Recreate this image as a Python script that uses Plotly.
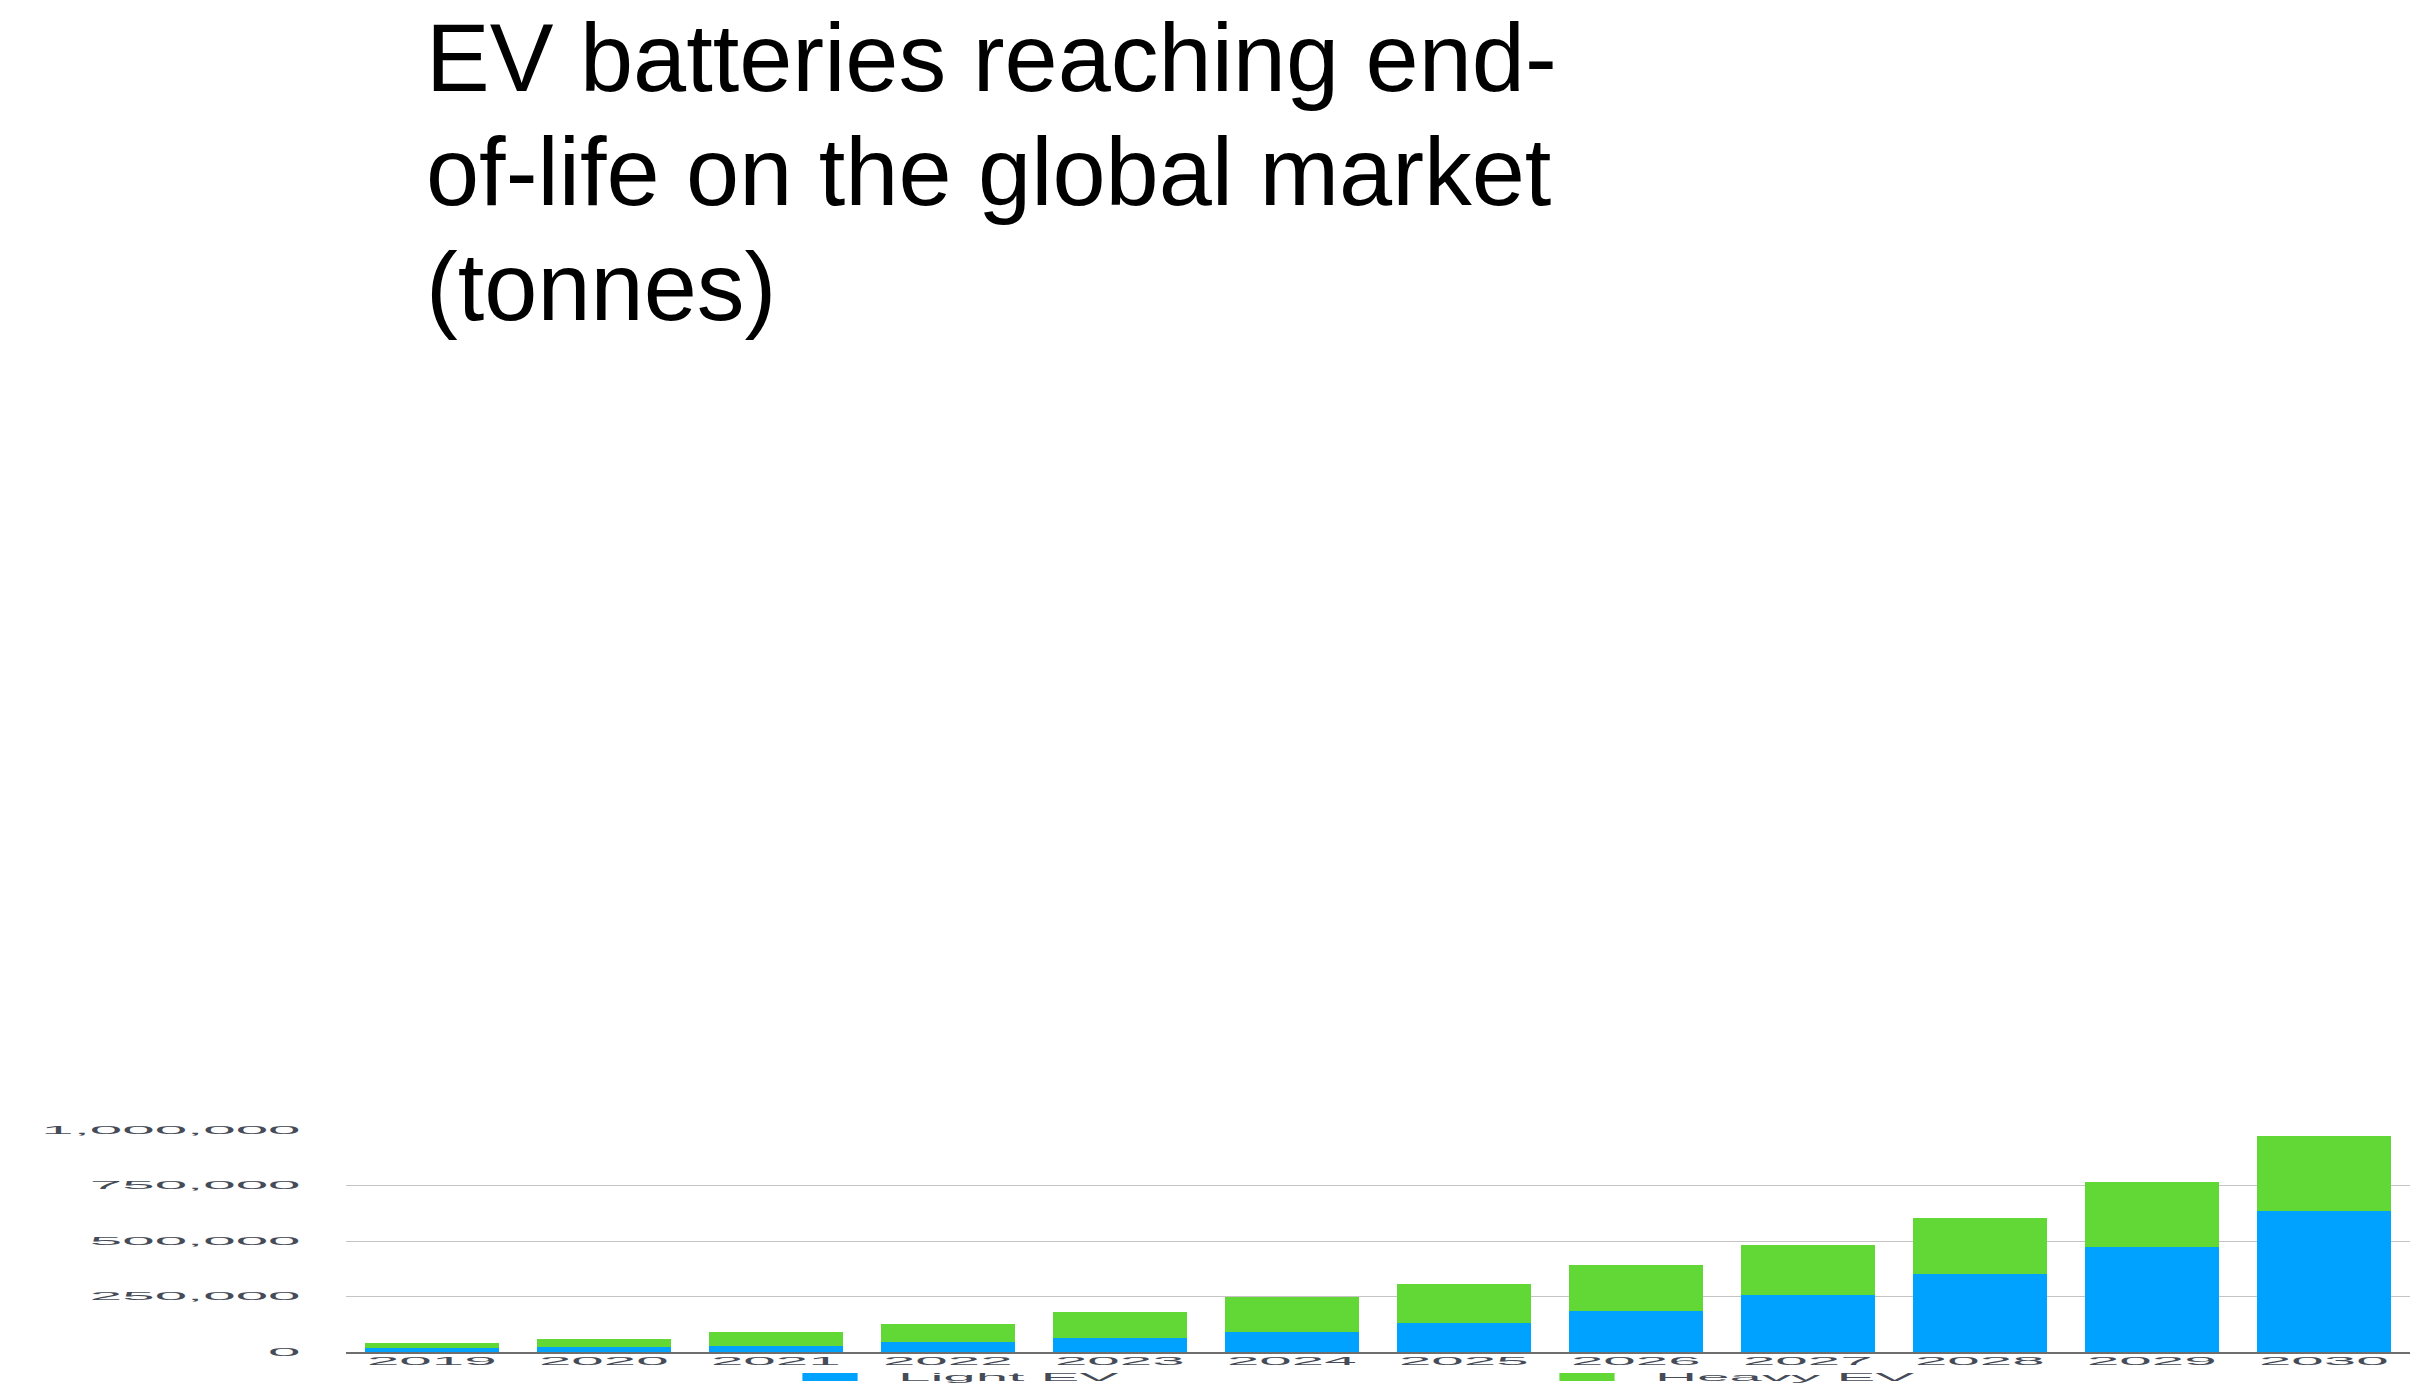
import plotly.graph_objects as go

# End-of-life EV battery volumes, tonnes per year
years = ["2019", "2020", "2021", "2022", "2023", "2024",
         "2025", "2026", "2027", "2028", "2029", "2030"]
light_ev = [18000, 21000, 28000, 45000, 62000, 91000,
            131000, 185000, 257000, 351000, 473000, 634000]
heavy_ev = [21000, 36000, 61000, 82000, 120000, 157000,
            175000, 205000, 225000, 254000, 294000, 339000]

y_tick_values = [0, 250000, 500000, 750000, 1000000]
y_tick_labels = ["0", "250,000", "500,000", "750,000", "1,000,000"]

title_lines = ["EV batteries reaching end-",
               "of-life on the global market",
               "(tonnes)"]

BLUE = "#00A2FF"
GREEN = "#61D836"
LABEL = "#464b58"
FONT = "Liberation Sans, Arial, Helvetica, sans-serif"

W, H = 2429, 1388
ML, MR, MT, MB = 346, 19, 1130, 36
plot_h = H - MT - MB
plot_w = W - ML - MR


def px_to_paper_x(px):
    return (px - ML) / plot_w


def px_to_paper_y(py):
    return (H - MB - py) / plot_h


fig = go.Figure()
fig.add_trace(go.Bar(x=years, y=light_ev, name="Light EV",
                     marker=dict(color=BLUE, line=dict(width=0))))
fig.add_trace(go.Bar(x=years, y=heavy_ev, name="Heavy EV",
                     marker=dict(color=GREEN, line=dict(width=0))))

# Three title lines, placed individually for tight line spacing
title_centres = [58, 172, 287]
for line, cy in zip(title_lines, title_centres):
    fig.add_annotation(text=line, xref="paper", yref="paper",
                       x=px_to_paper_x(424), y=px_to_paper_y(cy),
                       xanchor="left", yanchor="middle", showarrow=False,
                       font=dict(family=FONT, size=95.5, color="#000000"))

fig.update_layout(
    width=W, height=H,
    margin=dict(l=ML, r=MR, t=MT, b=MB, pad=0, autoexpand=False),
    paper_bgcolor="white", plot_bgcolor="white",
    barmode="stack", bargap=0.22,
    font=dict(family=FONT, size=10.6, color=LABEL),
    showlegend=True,
    legend=dict(orientation="h", xref="paper", yref="paper",
                x=px_to_paper_x(790), y=px_to_paper_y(1377),
                xanchor="left", yanchor="middle",
                entrywidth=712, entrywidthmode="pixels",
                traceorder="normal",
                bgcolor="rgba(0,0,0,0)", borderwidth=0,
                font=dict(family=FONT, size=10.6, color=LABEL)),
    xaxis=dict(type="category", showgrid=False, showline=True,
               linecolor="#6e6e6e", linewidth=2, ticks="",
               ticklabelstandoff=-2,
               tickfont=dict(family=FONT, size=10.6, color=LABEL)),
    yaxis=dict(range=[0, 1000000], tickvals=y_tick_values,
               ticktext=y_tick_labels, showgrid=True,
               gridcolor="#c4c4c4", gridwidth=1, zeroline=False,
               showline=False, ticks="", ticklabelstandoff=44,
               tickfont=dict(family=FONT, size=10.6, color=LABEL)),
)

# Wide-set axis and legend lettering: stretch each label horizontally
# about its anchor point whenever the plot has been (re)drawn.
stretch_js = """
var gd = document.getElementById('{plot_id}');
function stretch(sel, sx, sy, ax, dx) {
  gd.querySelectorAll(sel).forEach(function(el) {
    var cur = el.getAttribute('transform') || '';
    if (el.getAttribute('data-stretched') === cur && cur !== '') return;
    var base = cur;
    el.setAttribute('data-base', base);
    var b = el.getBBox();
    var px = b.x + b.width * ax, py = b.y + b.height / 2;
    var t = base + ' translate(' + (px + dx) + ',' + py +
      ') scale(' + sx + ',' + sy + ') translate(' + (-px) + ',' + (-py) + ')';
    el.setAttribute('transform', t);
    el.setAttribute('data-stretched', t);
  });
}
function stretchAll() {
  stretch('.xtick text', 5.5, 1, 0.5, 0);
  stretch('.ytick text', 5.5, 1, 1, 0);
  stretch('.legendtext', 5.5, 1, 0, 68);
  stretch('.legendpoints path', 4.6, 0.67, 0.5, 20);
}
stretchAll();
gd.on('plotly_afterplot', stretchAll);
setTimeout(stretchAll, 200);
setTimeout(stretchAll, 800);
"""

fig.write_html("out.html", post_script=stretch_js)
